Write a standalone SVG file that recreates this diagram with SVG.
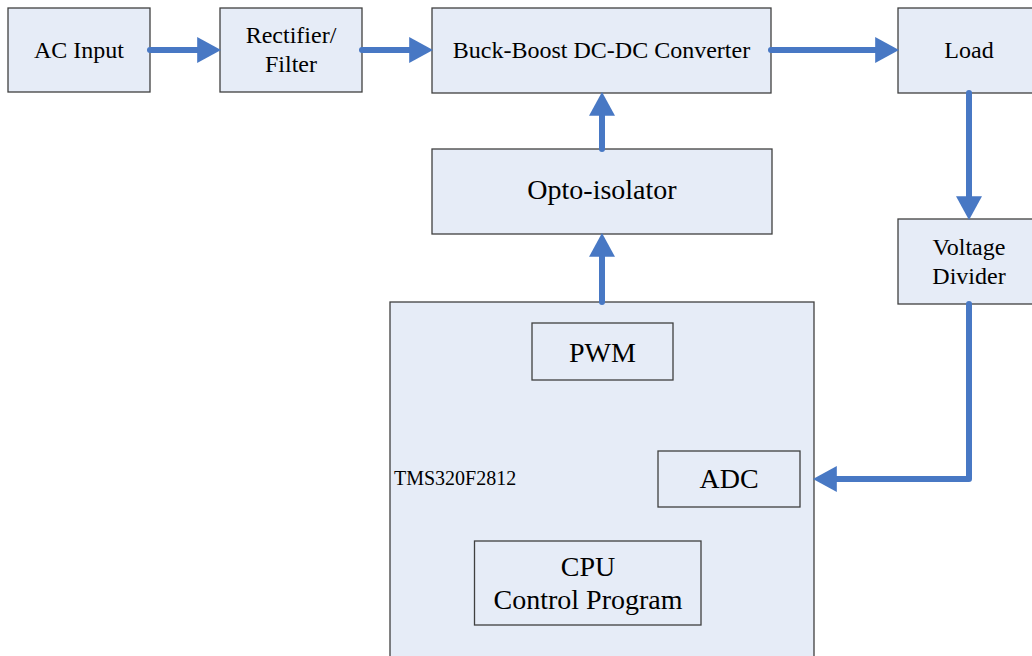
<svg xmlns="http://www.w3.org/2000/svg" width="1032" height="656" viewBox="0 0 1032 656">
<style>
.box{fill:#E6ECF7;stroke:#404040;stroke-width:1.3}
.t{font-family:"Liberation Serif","Times New Roman",serif;fill:#000;text-anchor:middle}
.s22{font-size:24px}
.s27{font-size:28px}
.conn{fill:none;stroke:#4878C4;stroke-width:6;stroke-linecap:round;stroke-linejoin:round}
</style>
<defs>
<marker id="ah" markerUnits="userSpaceOnUse" markerWidth="24" markerHeight="26" refX="10" refY="12" orient="auto" viewBox="0 0 22 24">
<path d="M0,0 L22,12 L0,24 z" fill="#4878C4"/>
</marker>
</defs>
<rect width="1032" height="656" fill="#fff"/>
<g id="ac-input"><rect class="box" x="8" y="8" width="142" height="84"/><text class="t s22" x="79" y="58">AC Input</text></g>
<g id="rectifier"><rect class="box" x="220" y="8" width="142" height="84"/><text class="t s22" x="291" y="43">Rectifier/</text><text class="t s22" x="291" y="72">Filter</text></g>
<g id="converter"><rect class="box" x="432" y="8" width="339" height="85"/><text class="t s22" x="601.5" y="58">Buck-Boost DC-DC Converter</text></g>
<g id="load"><rect class="box" x="898" y="8" width="140" height="85"/><text class="t s22" x="969" y="58">Load</text></g>
<g id="opto"><rect class="box" x="432" y="149" width="340" height="85"/><text class="t s27" x="602" y="199">Opto-isolator</text></g>
<g id="divider"><rect class="box" x="898" y="219" width="140" height="85"/><text class="t s22" x="969" y="255">Voltage</text><text class="t s22" x="969" y="284">Divider</text></g>
<g id="tms320"><rect class="box" x="390" y="302" width="424" height="360"/><text class="t" style="font-size:20px;text-anchor:start" x="394" y="485">TMS320F2812</text></g>
<g id="pwm"><rect class="box" x="532" y="323" width="141" height="57"/><text class="t s27" x="602.5" y="362">PWM</text></g>
<g id="adc"><rect class="box" x="658" y="451" width="142" height="56"/><text class="t s27" x="729" y="488">ADC</text></g>
<g id="cpu"><rect class="box" x="474.5" y="541" width="226.5" height="84"/><text class="t s27" x="588" y="576">CPU</text><text class="t s27" x="588" y="609">Control Program</text></g>
<g id="connectors">
<path class="conn" d="M150,50 L208,50" marker-end="url(#ah)"/>
<path class="conn" d="M362,50 L420,50" marker-end="url(#ah)"/>
<path class="conn" d="M771,50 L886,50" marker-end="url(#ah)"/>
<path class="conn" d="M602,149 L602,105" marker-end="url(#ah)"/>
<path class="conn" d="M602,302 L602,246" marker-end="url(#ah)"/>
<path class="conn" d="M969,93 L969,207" marker-end="url(#ah)"/>
<path class="conn" d="M969,304 L969,479 L826,479" marker-end="url(#ah)"/>
</g>
</svg>
